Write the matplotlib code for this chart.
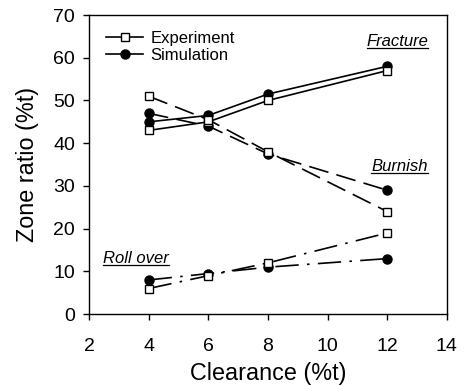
import matplotlib
matplotlib.use("Agg")
import matplotlib.pyplot as plt

clearance = [4, 6, 8, 12]
fracture_exp = [43, 45, 50, 57]
fracture_sim = [45, 46.5, 51.5, 58]
burnish_exp = [51, 45.5, 38, 24]
burnish_sim = [47, 44, 37.5, 29]
rollover_exp = [6, 9, 12, 19]
rollover_sim = [8, 9.5, 11, 13]
xticks = [2, 4, 6, 8, 10, 12, 14]
yticks = [0, 10, 20, 30, 40, 50, 60, 70]

plt.rcParams['font.family'] = ['Liberation Sans', 'DejaVu Sans']

fig = plt.figure(figsize=(4.66, 3.85), dpi=100)
ax = fig.add_axes([0.191, 0.184, 0.768, 0.777])

exp_kw = dict(color='black', lw=1.2, marker='s', ms=6, mfc='white', mec='black', mew=1.0)
sim_kw = dict(color='black', lw=1.2, marker='o', ms=6.5, mfc='black', mec='black')

ax.plot(clearance, fracture_exp, ls='-', zorder=3, **exp_kw)
ax.plot(clearance, fracture_sim, ls='-', zorder=2, **sim_kw)
ax.plot(clearance, burnish_exp, ls=(0, (12, 5)), zorder=3, **exp_kw)
ax.plot(clearance, burnish_sim, ls=(0, (12, 5)), zorder=2, **sim_kw)
ax.plot(clearance, rollover_exp, ls=(0, (14, 5, 1.5, 5)), zorder=3, **exp_kw)
ax.plot(clearance, rollover_sim, ls=(0, (14, 5, 1.5, 5)), zorder=2, **sim_kw)

h1, = ax.plot([], [], ls='-', **exp_kw)
h2, = ax.plot([], [], ls='-', **sim_kw)
ax.legend([h1, h2], ['Experiment', 'Simulation'], loc='upper left', frameon=False,
          fontsize=12, handlelength=2.2, borderaxespad=0.0, labelspacing=0.15,
          handletextpad=0.45, bbox_to_anchor=(0.03, 0.97))

ax.set_xlim(2, 14)
ax.set_ylim(0, 70)
ax.set_xticks(xticks)
ax.set_yticks(yticks)
ax.tick_params(direction='out', length=4, width=1, labelsize=14)
ax.tick_params(axis='x', pad=13)
ax.tick_params(axis='y', pad=6)
ax.set_xlabel('Clearance (%t)', fontsize=16.8, labelpad=5)
ax.set_ylabel('Zone ratio (%t)', fontsize=16.8, labelpad=10)
for s in ax.spines.values():
    s.set_linewidth(1.0)

labels = [
    ('Fracture', 13.38, 63.7, 'right'),
    ('Burnish', 13.36, 34.6, 'right'),
    ('Roll over', 2.47, 13.1, 'left'),
]
fig.canvas.draw()
renderer = fig.canvas.get_renderer()
for txt, x, y, ha in labels:
    t = ax.text(x, y, txt, fontsize=12, fontstyle='italic', ha=ha, va='center')
    bb = t.get_window_extent(renderer=renderer)
    inv = ax.transData.inverted()
    (x0, y0), (x1, _) = inv.transform([(bb.x0, bb.y0 + 1), (bb.x1, bb.y0 + 1)])
    ax.plot([x0, x1], [y0, y0], color='black', lw=0.9, clip_on=False)

fig.savefig('out.png', dpi=100)
